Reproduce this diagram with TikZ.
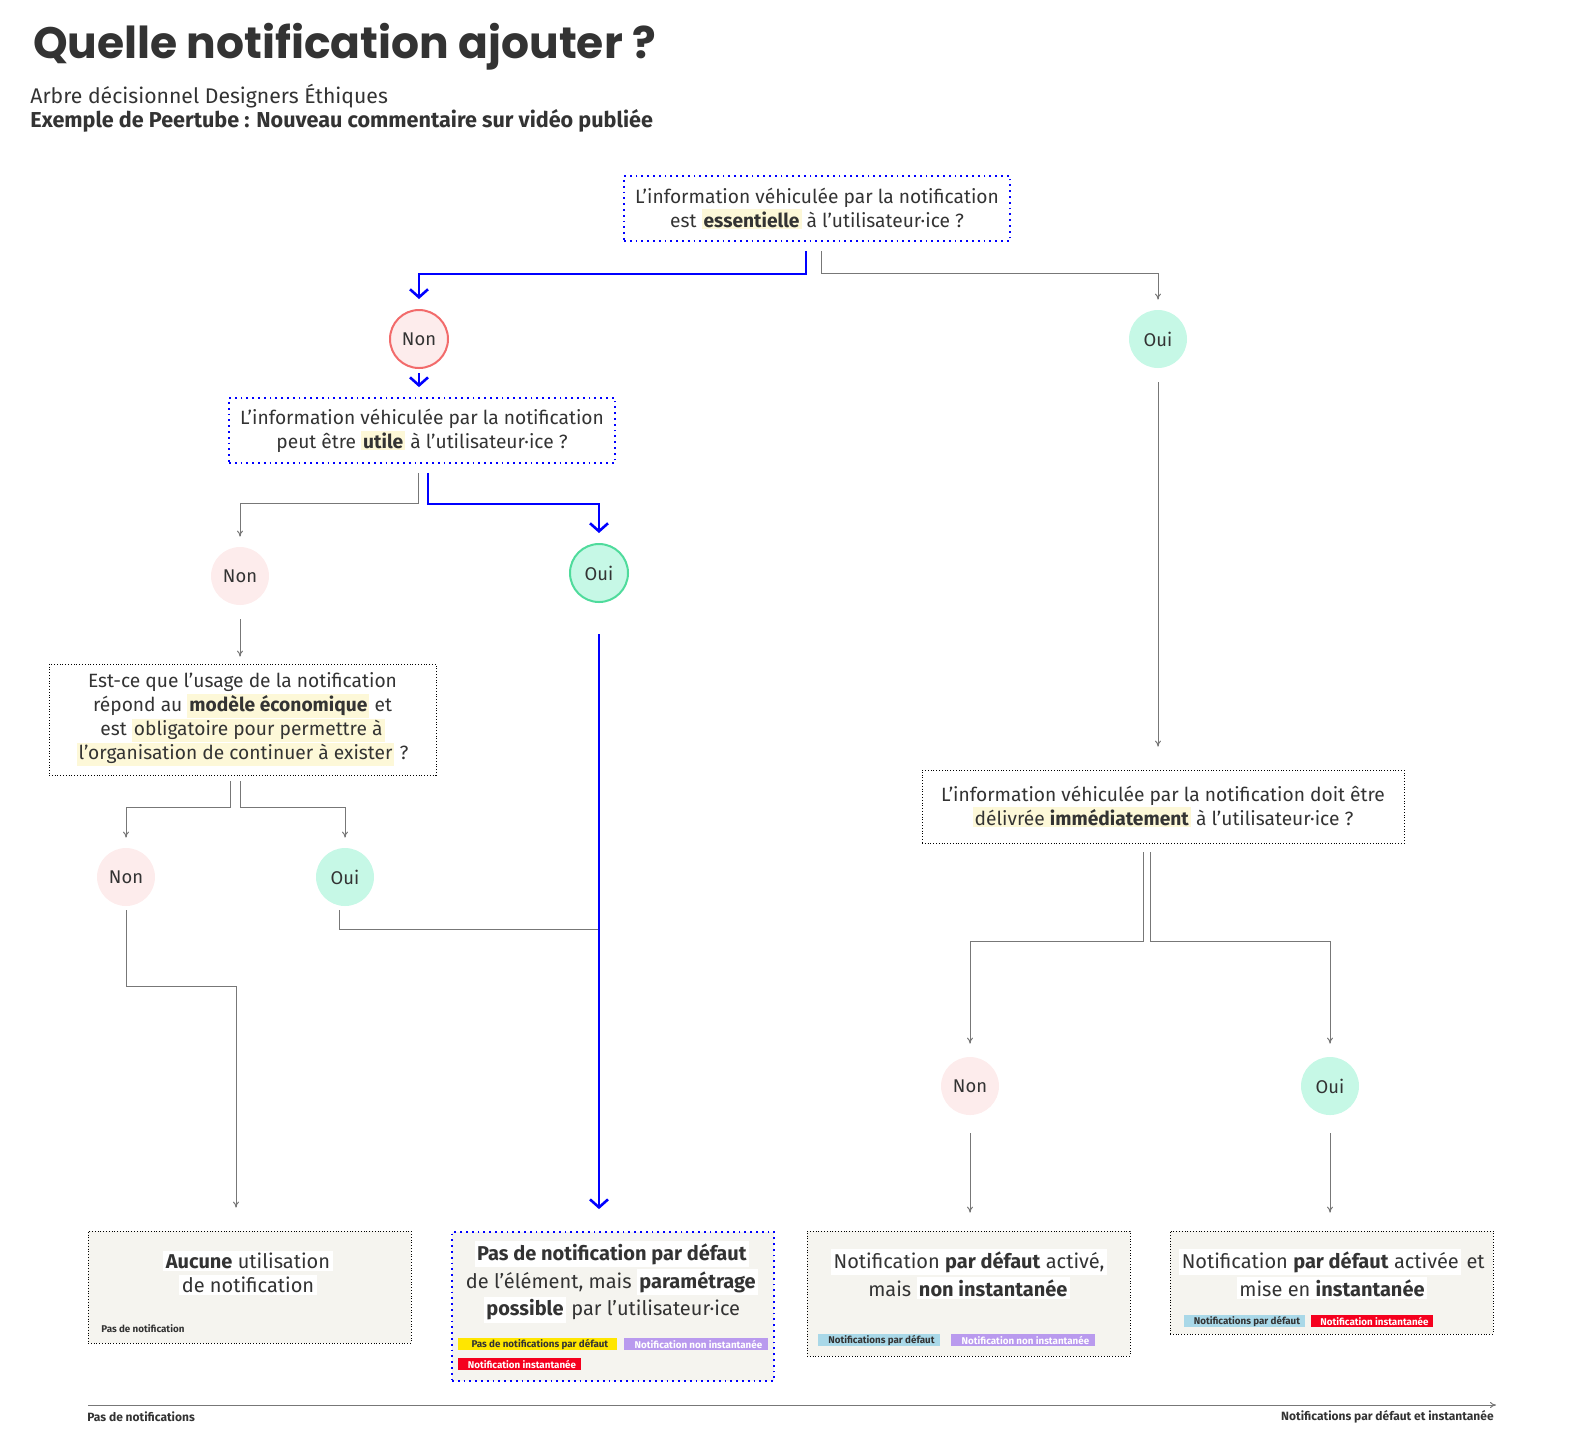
\documentclass[tikz,border=0pt]{standalone}
\usepackage{fontspec}
\setmainfont{Fira Sans}
\newfontfamily\titlefont{Poppins}
\usetikzlibrary{arrows.meta}
\definecolor{txt}{HTML}{333333}
\definecolor{hly}{HTML}{FDF8D8}
\definecolor{boxf}{HTML}{F5F4EF}
\definecolor{pinkf}{HTML}{FDECEC}
\definecolor{redb}{HTML}{F26B6B}
\definecolor{mintf}{HTML}{C6F8E6}
\definecolor{greenb}{HTML}{4FDB9C}
\definecolor{gline}{HTML}{777777}
\definecolor{tagy}{HTML}{FFE600}
\definecolor{tagp}{HTML}{B99AEE}
\definecolor{tagr}{HTML}{F5001E}
\definecolor{tagb}{HTML}{A9D8E8}
\newcommand{\hl}[1]{{\setlength{\fboxsep}{1pt}\colorbox{hly}{#1}}}
\newcommand{\wh}[1]{{\setlength{\fboxsep}{1.2pt}\colorbox{white}{#1}}}
\tikzset{
  qbox/.style={draw=blue, line width=0.9pt, dotted, align=center, text=txt, font=\fontsize{9.6}{12}\selectfont, inner sep=0pt},
  gbox/.style={draw=black, densely dotted, line width=0.4pt, align=center, text=txt, font=\fontsize{9.6}{12}\selectfont, inner sep=0pt},
  nonc/.style={circle, fill=pinkf, minimum size=29pt, inner sep=0pt, text=txt, font=\fontsize{9.2}{10}\selectfont},
  ouic/.style={circle, fill=mintf, minimum size=29pt, inner sep=0pt, text=txt, font=\fontsize{9.2}{10}\selectfont},
  fbox/.style={fill=boxf, draw=black, densely dotted, line width=0.4pt, inner sep=0pt},
  bbox/.style={fill=boxf, draw=blue, dotted, line width=0.9pt, inner sep=0pt},
  btxt/.style={align=center, text=txt, font=\fontsize{10}{12}\selectfont, inner sep=0pt},
  tag/.style={inner sep=0pt, minimum height=6pt, font=\fontsize{4.9}{5}\selectfont\bfseries, anchor=west},
  garr/.style={draw=gline, line width=0.5pt, -{To[length=3pt,width=3pt]}},
  barr/.style={draw=blue, line width=1.3pt, -{Straight Barb[length=4pt,width=9pt,line width=1.3pt]}},
}
\begin{document}
\begin{tikzpicture}[x=0.5pt,y=-0.5pt]
\useasboundingbox (0,0) rectangle (1572,1453);
\node[anchor=west, text=txt, font=\titlefont\fontsize{22}{24}\selectfont\bfseries] (title) at (26,47) {Quelle notification ajouter ?};
\node[anchor=west, text=txt, font=\fontsize{10.6}{11}\selectfont, inner sep=0pt] (sub1) at (30,96) {Arbre décisionnel Designers Éthiques};
\node[anchor=west, text=txt, font=\fontsize{10.8}{11}\selectfont\bfseries, inner sep=0pt] (sub2) at (30,121) {Exemple de Peertube : Nouveau commentaire sur vidéo publiée};

% questions
\node[qbox, minimum width=193pt, minimum height=32.5pt] (q1) at (817,208.5) {L’information véhiculée par la notification\\est \hl{\textbf{essentielle}} à l’utilisateur·ice ?};
\node[qbox, minimum width=193pt, minimum height=32.5pt] (q2) at (422,430.5) {L’information véhiculée par la notification\\peut être \hl{\textbf{utile}} à l’utilisateur·ice ?};
\node[gbox, minimum width=193.5pt, minimum height=55.5pt] (q3) at (242.5,719.5) {Est-ce que l’usage de la notification\\répond au \hl{\textbf{modèle économique}} et\\est \hl{obligatoire pour permettre à}\\\hl{l’organisation de continuer à exister} ?};
\node[gbox, minimum width=241pt, minimum height=36.5pt] (q4) at (1163,806.5) {L’information véhiculée par la notification doit être\\\hl{délivrée \textbf{immédiatement}} à l’utilisateur·ice ?};

% circles
\node[nonc, draw=redb, line width=1pt] (non1) at (419,339) {Non};
\node[ouic] (oui1) at (1158,339) {Oui};
\node[nonc] (non2) at (240,576) {Non};
\node[ouic, draw=greenb, line width=1pt] (oui2) at (599,573) {Oui};
\node[nonc] (non3) at (126,877) {Non};
\node[ouic] (oui3) at (345,877) {Oui};
\node[nonc] (non4) at (970,1086) {Non};
\node[ouic] (oui4) at (1330,1086) {Oui};

% final boxes
\node[fbox, minimum width=161.5pt, minimum height=56pt] (b1) at (249.5,1287) {};
\node[bbox, minimum width=161pt, minimum height=74.5pt] (b2) at (613,1306.5) {};
\node[fbox, minimum width=161.5pt, minimum height=62.5pt] (b3) at (968.5,1293.5) {};
\node[fbox, minimum width=161.5pt, minimum height=51.5pt] (b4) at (1331.5,1282.5) {};

\node[btxt] (t1) at (248,1273) {\wh{\textbf{Aucune} utilisation}\\\wh{de notification}};
\node[anchor=west, inner sep=0pt, font=\fontsize{4.9}{5}\selectfont\bfseries, text=txt] (t1a) at (101,1329) {Pas de notification};
\node[btxt] (t2) at (612,1282) {\wh{\textbf{Pas de notification par défaut}}\\de l’élément, mais \wh{\textbf{paramétrage}}\\\wh{\textbf{possible}} par l’utilisateur·ice};
\node[tag, fill=tagy, text=txt, minimum width=79.5pt] (t2a) at (458,1344) {\hspace{2pt}Pas de notifications par défaut};
\node[tag, fill=tagp, text=white, minimum width=72pt] (t2b) at (624,1344) {\hspace{2pt}Notification non instantanée};
\node[tag, fill=tagr, text=white, minimum width=61.5pt] (t2c) at (458,1364) {\hspace{2pt}Notification instantanée};
\node[btxt] (t3) at (969,1274) {\wh{Notification \textbf{par défaut} activé,}\\mais \wh{\textbf{non instantanée}}};
\node[tag, fill=tagb, text=txt, minimum width=61pt] (t3a) at (818,1340) {\hspace{2pt}Notifications par défaut};
\node[tag, fill=tagp, text=white, minimum width=72pt] (t3b) at (951,1340) {\hspace{2pt}Notification non instantanée};
\node[btxt] (t4) at (1332,1274) {\wh{Notification \textbf{par défaut} activée} et\\\wh{mise en \textbf{instantanée}}};
\node[tag, fill=tagb, text=txt, minimum width=60.5pt] (t4a) at (1184,1321) {\hspace{2pt}Notifications par défaut};
\node[tag, fill=tagr, text=white, minimum width=61pt] (t4b) at (1311,1321) {\hspace{2pt}Notification instantanée};

% connectors
\draw[barr] ([xshift=-5.5pt]q1.south) ++(0,9) -- ++(0,23) -| ([yshift=5pt]non1.north);
\draw[garr] ([xshift=2pt]q1.south) ++(0,9) -- ++(0,23) -| ([yshift=5pt]oui1.north);
\draw[barr] ([yshift=-2pt]non1.south) -- ([yshift=5pt]q2.north -| non1.south);
\draw[garr] ([xshift=-2pt]q2.south) ++(0,9) -- ++(0,31) -| ([yshift=5pt]non2.north);
\draw[barr] ([xshift=3pt]q2.south) ++(0,9) -- ++(0,31) -| ([yshift=5pt]oui2.north);
\draw[garr] ([yshift=-7pt]non2.south) -- ([yshift=3.5pt]q3.north -| non2.south);
\draw[garr] ([xshift=-6.25pt]q3.south) ++(0,6) -- ++(0,26) -| ([yshift=5pt]non3.north);
\draw[garr] ([xshift=-1.25pt]q3.south) ++(0,6) -- ++(0,26) -| ([yshift=5pt]oui3.north);
\draw[garr] ([yshift=-2pt]non3.south) -- ++(0,76) -| ([yshift=11.5pt]b1.north -| 236,0);
\draw[draw=gline, line width=0.5pt] ([xshift=-3pt,yshift=-2pt]oui3.south) -- ++(0,19) -- ++(260,0);
\draw[barr] ([yshift=-15.5pt]oui2.south) -- ([yshift=11pt]b2.north -| oui2.south);
\draw[garr] ([yshift=-7pt]oui1.south) -- ([yshift=11.5pt]q4.north -| oui1.south);
\draw[garr] ([xshift=-10pt]q4.south) ++(0,9) -- ++(0,89) -| ([yshift=6.5pt]non4.north);
\draw[garr] ([xshift=-6.5pt]q4.south) ++(0,9) -- ++(0,89) -| ([yshift=6.5pt]oui4.north);
\draw[garr] ([yshift=-9pt]non4.south) -- ([yshift=9pt]b3.north -| non4.south);
\draw[garr] ([yshift=-9pt]oui4.south) -- ([yshift=9pt]b4.north -| oui4.south);

% axis
\coordinate (ax1) at (88,1405);
\coordinate (ax2) at (1496,1405);
\draw[draw=gline, line width=0.5pt, -{To[length=3pt,width=3pt]}] (ax1) -- (ax2);
\node[anchor=west, inner sep=0pt, font=\fontsize{6}{6}\selectfont\bfseries, text=txt] (axl) at (87,1417) {Pas de notifications};
\node[anchor=east, inner sep=0pt, font=\fontsize{6}{6}\selectfont\bfseries, text=txt] (axr) at (1494,1417) {Notifications par défaut et instantanée};
\end{tikzpicture}
\end{document}
